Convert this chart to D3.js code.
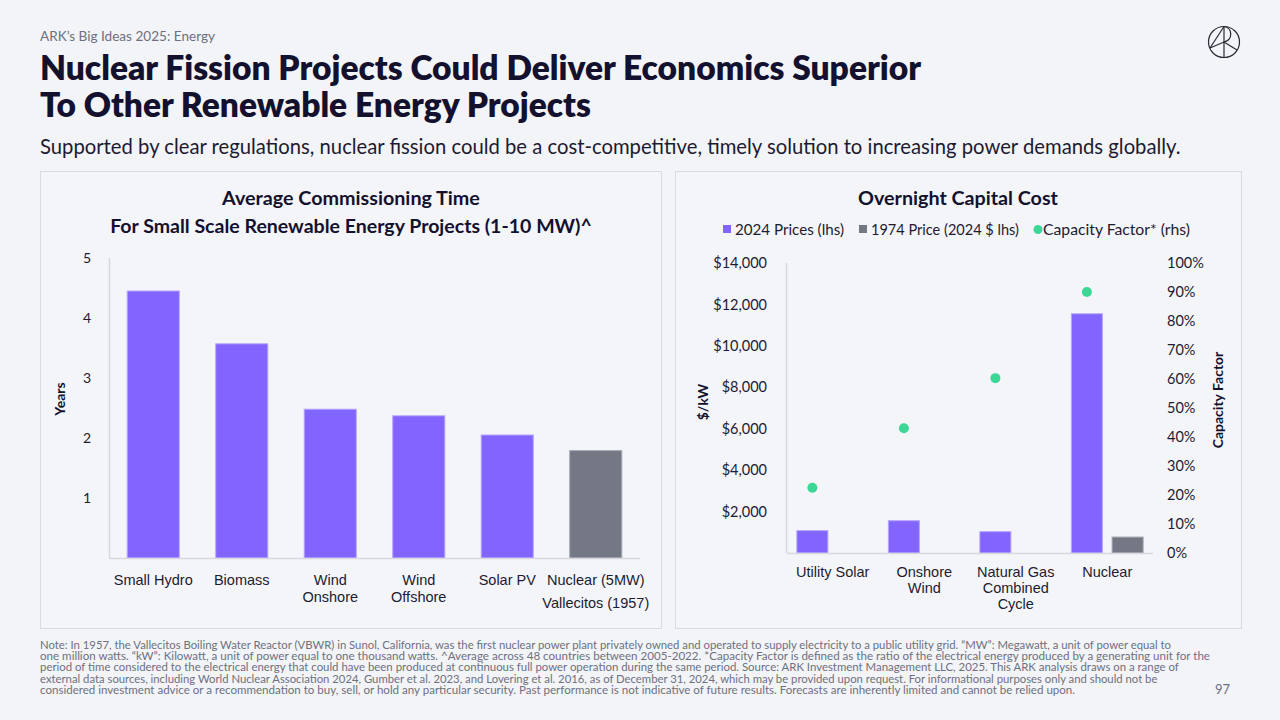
<!DOCTYPE html>
<html>
<head>
<meta charset="utf-8">
<script src="https://cdn.jsdelivr.net/npm/d3@7"></script>
<style>
  html, body { margin: 0; padding: 0; background: #f3f4f7; }
  svg { display: block; font-family: "Lato", "Noto Sans", sans-serif; }
</style>
</head>
<body>
<svg id="chart" width="1280" height="720"></svg>
<script>
// ---------------- DATA ----------------
const timeCategories = ["Small Hydro", "Biomass", "Wind Onshore", "Wind Offshore", "Solar PV", "Nuclear (5MW)"];
const timeLabelLines = [["Small Hydro"], ["Biomass"], ["Wind", "Onshore"], ["Wind", "Offshore"], ["Solar PV"], ["Nuclear (5MW)"]];
const timeSubLabel = ["", "", "", "", "", "Vallecitos (1957)"];
const timeValues = [4.45, 3.57, 2.48, 2.37, 2.05, 1.79];
const timeIsNuclear = [false, false, false, false, false, true];
const timeTicks = [1, 2, 3, 4, 5];

const costCategories = ["Utility Solar", "Onshore Wind", "Natural Gas Combined Cycle", "Nuclear"];
const costLabelLines = [["Utility Solar"], ["Onshore", "Wind"], ["Natural Gas", "Combined", "Cycle"], ["Nuclear"]];
const prices2024 = [1080, 1560, 1030, 11550];
const price1974 = [null, null, null, 770];
const capacityFactor = [22.5, 43, 60.3, 90];
const costTicks = [2000, 4000, 6000, 8000, 10000, 12000, 14000];
const cfTicks = [0, 10, 20, 30, 40, 50, 60, 70, 80, 90, 100];
const legendItems = ["2024 Prices (lhs)", "1974 Price (2024 $ lhs)", "Capacity Factor* (rhs)"];

const footerLines = [
  "Note: In 1957, the Vallecitos Boiling Water Reactor (VBWR) in Sunol, California, was the first nuclear power plant privately owned and operated to supply electricity to a public utility grid. \u201cMW\u201d: Megawatt, a unit of power equal to",
  "one million watts. \u201ckW\u201d: Kilowatt, a unit of power equal to one thousand watts. ^Average across 48 countries between 2005-2022. *Capacity Factor is defined as the ratio of the electrical energy produced by a generating unit for the",
  "period of time considered to the electrical energy that could have been produced at continuous full power operation during the same period. Source: ARK Investment Management LLC, 2025. This ARK analysis draws on a range of",
  "external data sources, including World Nuclear Association 2024, Gumber et al. 2023, and Lovering et al. 2016, as of December 31, 2024, which may be provided upon request. For informational purposes only and should not be",
  "considered investment advice or a recommendation to buy, sell, or hold any particular security. Past performance is not indicative of future results. Forecasts are inherently limited and cannot be relied upon."
];
const footerWidths = [1132, 1171, 1140, 1119, 1035];

// ---------------- STYLE ----------------
const PURPLE = "#8264ff", PURPLE_EDGE = "#b7a6ff";
const GRAY = "#737884", GRAY_EDGE = "#a4a8b2";
const GREEN = "#3bd895";
const DARK = "#13112e";
const TEXT = "#1c1b33";
const MUTED = "#6d7080";
const AXIS = "#d6d8de";

const svg = d3.select("#chart");

function fit(sel, target) {
  sel.each(function () {
    const w = this.getComputedTextLength();
    const fs = parseFloat(d3.select(this).attr("font-size"));
    if (w > 0) d3.select(this).attr("font-size", (fs * target / w).toFixed(2));
  });
}

// Header
svg.append("text").attr("x", 40).attr("y", 41).attr("font-size", 14).attr("fill", MUTED)
  .text("ARK\u2019s Big Ideas 2025: Energy").call(fit, 175);
svg.append("text").attr("x", 40).attr("y", 80).attr("font-size", 31).attr("font-weight", 800).attr("fill", DARK)
  .text("Nuclear Fission Projects Could Deliver Economics Superior").call(fit, 881);
svg.append("text").attr("x", 40).attr("y", 117).attr("font-size", 31).attr("font-weight", 800).attr("fill", DARK)
  .text("To Other Renewable Energy Projects").call(fit, 551);
svg.append("text").attr("x", 40).attr("y", 154).attr("font-size", 19).attr("fill", TEXT)
  .text("Supported by clear regulations, nuclear fission could be a cost-competitive, timely solution to increasing power demands globally.").call(fit, 1141);

// Logo
const logo = svg.append("g").attr("transform", "translate(1224,42)").attr("fill", "none").attr("stroke", "#2a2a35").attr("stroke-width", 1.2);
logo.append("circle").attr("r", 15.5);
logo.append("line").attr("x1", -14).attr("y1", 6).attr("x2", 0).attr("y2", -15.5);
logo.append("line").attr("x1", 0).attr("y1", -15.5).attr("x2", 0).attr("y2", 15.5);
logo.append("path").attr("d", "M0,-15.5 C9,-14 9,-2 0,0 L-14,6 M0,0 L13,8");

// Panels
svg.append("rect").attr("x", 40.5).attr("y", 171.5).attr("width", 621).attr("height", 457)
  .attr("fill", "#f4f5f8").attr("stroke", "#d9dbe0");
svg.append("rect").attr("x", 675.5).attr("y", 171.5).attr("width", 566).attr("height", 457)
  .attr("fill", "#f4f5f8").attr("stroke", "#d9dbe0");

// ---------------- LEFT CHART ----------------
const L = svg.append("g");
L.append("text").attr("x", 351).attr("y", 205).attr("text-anchor", "middle").attr("font-size", 18)
  .attr("font-weight", 700).attr("fill", DARK).text("Average Commissioning Time").call(fit, 258);
L.append("text").attr("x", 351).attr("y", 233).attr("text-anchor", "middle").attr("font-size", 18)
  .attr("font-weight", 700).attr("fill", DARK).text("For Small Scale Renewable Energy Projects (1-10 MW)^").call(fit, 482);

const xL = d3.scaleBand().domain(timeCategories).range([109, 640]).paddingInner(0.4).paddingOuter(0.2);
const yL = d3.scaleLinear().domain([0, 5]).range([558, 258]);

L.append("line").attr("x1", 109.5).attr("x2", 109.5).attr("y1", 258).attr("y2", 558).attr("stroke", AXIS).attr("stroke-width", 1.5);

const yAxisL = d3.axisLeft(yL).tickValues(timeTicks).tickSize(0).tickPadding(0).tickFormat(d3.format("d"));
const gyL = L.append("g").attr("transform", "translate(91,0)").call(yAxisL);
gyL.select(".domain").remove();
gyL.selectAll("text").attr("font-size", 14).attr("fill", TEXT).attr("font-family", "Lato");

L.selectAll("rect.bar").data(timeValues).join("rect").attr("class", "bar")
  .attr("x", (d, i) => xL(timeCategories[i]) + 0.5)
  .attr("width", xL.bandwidth() - 1)
  .attr("y", d => yL(d))
  .attr("height", d => yL(0) - yL(d))
  .attr("fill", (d, i) => timeIsNuclear[i] ? GRAY : PURPLE)
  .attr("stroke", (d, i) => timeIsNuclear[i] ? GRAY_EDGE : PURPLE_EDGE)
  .attr("stroke-width", 1);

L.append("line").attr("x1", 109).attr("x2", 640).attr("y1", 558.5).attr("y2", 558.5).attr("stroke", AXIS).attr("stroke-width", 1.5);

const xAxisL = d3.axisBottom(xL).tickSize(0).tickFormat("");
const gxL = L.append("g").attr("transform", "translate(0,558)").call(xAxisL);
gxL.select(".domain").remove();
gxL.selectAll(".tick").each(function (d, i) {
  const t = d3.select(this).append("text").attr("text-anchor", "middle").attr("font-size", 14.5).attr("fill", TEXT);
  timeLabelLines[i].forEach((line, j) => t.append("tspan").attr("x", 0).attr("y", 27 + j * 16.5).text(line));
  if (timeSubLabel[i]) {
    d3.select(this).append("text").attr("text-anchor", "middle").attr("font-size", 14.5).attr("fill", TEXT)
      .attr("y", 50).text(timeSubLabel[i]);
  }
});

L.append("text").attr("transform", "translate(65,399) rotate(-90)").attr("text-anchor", "middle")
  .attr("font-size", 14).attr("font-weight", 700).attr("fill", DARK).text("Years");

// ---------------- RIGHT CHART ----------------
const R = svg.append("g");
R.append("text").attr("x", 958).attr("y", 205).attr("text-anchor", "middle").attr("font-size", 18)
  .attr("font-weight", 700).attr("fill", DARK).text("Overnight Capital Cost").call(fit, 200);

// Legend
const legendX = [723, 859, 1037];
const legendTextW = [109, 148, 147];
const lg = R.append("g");
legendItems.forEach((txt, i) => {
  if (i < 2) {
    lg.append("rect").attr("x", legendX[i]).attr("y", 225).attr("width", 8).attr("height", 8)
      .attr("fill", i === 0 ? PURPLE : GRAY);
  } else {
    lg.append("circle").attr("cx", legendX[i] + 1).attr("cy", 229.5).attr("r", 4.5).attr("fill", GREEN);
  }
  lg.append("text").attr("x", legendX[i] + (i < 2 ? 12 : 6)).attr("y", 234.5).attr("font-size", 14.5)
    .attr("fill", TEXT).text(txt).call(fit, legendTextW[i]);
});

const xR = d3.scaleBand().domain(costCategories).range([787, 1153]);
const xSub = d3.scaleBand().domain(["2024", "1974"]).range([0, xR.bandwidth()]).paddingInner(0.214).paddingOuter(0.23);
const yR = d3.scaleLinear().domain([0, 14000]).range([553, 263]);
const yCF = d3.scaleLinear().domain([0, 100]).range([553, 263]);

R.append("line").attr("x1", 786.5).attr("x2", 786.5).attr("y1", 263).attr("y2", 553).attr("stroke", AXIS).attr("stroke-width", 1.5);

const yAxisR = d3.axisLeft(yR).tickValues(costTicks).tickSize(0).tickPadding(0)
  .tickFormat(d => "$" + d3.format(",")(d));
const gyR = R.append("g").attr("transform", "translate(767,0)").call(yAxisR);
gyR.select(".domain").remove();
gyR.selectAll("text").attr("font-size", 14.5).attr("fill", TEXT).attr("font-family", "Lato");

const yAxisCF = d3.axisRight(yCF).tickValues(cfTicks).tickSize(0).tickPadding(0).tickFormat(d => d + "%");
const gyCF = R.append("g").attr("transform", "translate(1167,0)").call(yAxisCF);
gyCF.select(".domain").remove();
gyCF.selectAll("text").attr("font-size", 14.5).attr("fill", TEXT).attr("font-family", "Lato");

// bars 2024
R.selectAll("rect.b24").data(prices2024).join("rect").attr("class", "b24")
  .attr("x", (d, i) => xR(costCategories[i]) + xSub("2024") + 0.5)
  .attr("width", xSub.bandwidth() - 1)
  .attr("y", d => yR(d))
  .attr("height", d => yR(0) - yR(d))
  .attr("fill", PURPLE).attr("stroke", PURPLE_EDGE).attr("stroke-width", 1);

// bars 1974
R.selectAll("rect.b74").data(price1974.map((v, i) => ({ v, i })).filter(d => d.v != null)).join("rect").attr("class", "b74")
  .attr("x", d => xR(costCategories[d.i]) + xSub("1974") + 0.5)
  .attr("width", xSub.bandwidth() - 1)
  .attr("y", d => yR(d.v))
  .attr("height", d => yR(0) - yR(d.v))
  .attr("fill", GRAY).attr("stroke", GRAY_EDGE).attr("stroke-width", 1);

R.append("line").attr("x1", 787).attr("x2", 1153).attr("y1", 553.5).attr("y2", 553.5).attr("stroke", AXIS).attr("stroke-width", 1.5);

// capacity factor dots
R.selectAll("circle.cf").data(capacityFactor).join("circle").attr("class", "cf")
  .attr("cx", (d, i) => xR(costCategories[i]) + xSub("2024") + xSub.bandwidth() / 2)
  .attr("cy", d => yCF(d))
  .attr("r", 5).attr("fill", GREEN);

const xAxisR = d3.axisBottom(xR).tickSize(0).tickFormat("");
const gxR = R.append("g").attr("transform", "translate(0,553)").call(xAxisR);
gxR.select(".domain").remove();
gxR.selectAll(".tick").each(function (d, i) {
  const t = d3.select(this).append("text").attr("text-anchor", "middle").attr("font-size", 14.5).attr("fill", TEXT);
  costLabelLines[i].forEach((line, j) => t.append("tspan").attr("x", 0).attr("y", 24 + j * 16).text(line));
});

R.append("text").attr("transform", "translate(708,402) rotate(-90)").attr("text-anchor", "middle")
  .attr("font-size", 14).attr("font-weight", 700).attr("fill", DARK).text("$/kW");
R.append("text").attr("transform", "translate(1223,400) rotate(-90)").attr("text-anchor", "middle")
  .attr("font-size", 14).attr("font-weight", 700).attr("fill", DARK).text("Capacity Factor");

// ---------------- FOOTER ----------------
footerLines.forEach((line, i) => {
  svg.append("text").attr("x", 40).attr("y", 649 + i * 11.2).attr("font-size", 10.5).attr("fill", MUTED)
    .text(line).call(fit, footerWidths[i]);
});
svg.append("text").attr("x", 1230).attr("y", 694).attr("text-anchor", "end").attr("font-size", 13)
  .attr("fill", MUTED).text("97");
</script>
</body>
</html>
